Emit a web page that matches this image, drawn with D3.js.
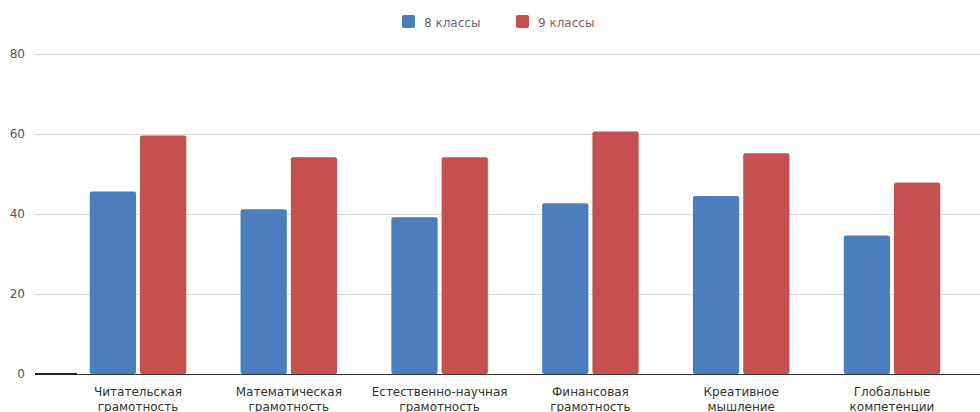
<!DOCTYPE html>
<html>
<head>
<meta charset="utf-8">
<script src="https://cdn.jsdelivr.net/npm/d3@7"></script>
<style>
  body { margin: 0; background: #fff; }
  svg text { font-family: "DejaVu Sans", "Noto Sans", sans-serif; }
</style>
</head>
<body>
<div class="chart"></div>
<script>
let categories = [
  ['Читательская', 'грамотность'],
  ['Математическая', 'грамотность'],
  ['Естественно-научная', 'грамотность'],
  ['Финансовая', 'грамотность'],
  ['Креативное', 'мышление'],
  ['Глобальные', 'компетенции']
]
let seriesNames = ['8 классы', '9 классы']
let grade8 = [45.6, 41.2, 39.2, 42.7, 44.5, 34.6]
let grade9 = [59.6, 54.2, 54.2, 60.6, 55.2, 47.9]
let yTicks = [0, 20, 40, 60, 80]
let colors = ['#4a7ebd', '#c5504e']
let legendTextColors = ['#5a6a88', '#8a5c60']

let width = 980, height = 412

let svg = d3.select('.chart')
    .append('svg')
    .attr('width', width)
    .attr('height', height)

let y = d3.scaleLinear()
    .domain([0, 80])
    .range([374, 54])

let x0 = d3.scaleBand()
    .domain(d3.range(categories.length))
    .range([62.6, 967.4])
    .paddingInner(0.36)
    .paddingOuter(0.18)

let x1 = d3.scaleBand()
    .domain([0, 1])
    .range([0, x0.bandwidth()])
    .paddingInner(0.08)

// grid + y labels
let yAxis = svg.append('g')
    .attr('transform', 'translate(35,0)')
    .call(d3.axisLeft(y).tickValues(yTicks).tickSize(-(width - 35)).tickPadding(10))
yAxis.select('.domain').remove()
yAxis.selectAll('.tick line')
    .attr('stroke', d => d === 0 ? '#333' : '#dcdcdc')
    .attr('stroke-width', 1)
yAxis.selectAll('.tick text')
    .attr('fill', '#555')
    .style('font-size', '12px')

// bars
let groups = svg.append('g').selectAll('g')
    .data(categories)
    .enter().append('g')
    .attr('transform', (d, i) => 'translate(' + x0(i) + ',0)')

groups.selectAll('rect')
    .data((d, i) => [grade8[i], grade9[i]])
    .enter().append('rect')
    .attr('x', (d, j) => x1(j))
    .attr('y', d => y(d))
    .attr('width', x1.bandwidth())
    .attr('height', d => y(0) - y(d))
    .attr('rx', 2)
    .style('fill', (d, j) => colors[j])

// zero line, thicker at the left
svg.append('line')
    .attr('x1', 35).attr('x2', width)
    .attr('y1', y(0) + 0.5).attr('y2', y(0) + 0.5)
    .attr('stroke', '#333')
svg.append('line')
    .attr('x1', 35).attr('x2', 77)
    .attr('y1', y(0)).attr('y2', y(0))
    .attr('stroke', '#222')
    .attr('stroke-width', 2)

// category labels
let labels = svg.append('g').selectAll('text')
    .data(categories)
    .enter().append('text')
    .attr('text-anchor', 'middle')
    .attr('fill', '#333')
    .style('font-size', '12px')
labels.each(function(d, i) {
  let t = d3.select(this)
  d.forEach((line, k) => {
    t.append('tspan')
      .attr('x', x0(i) + x0.bandwidth() / 2)
      .attr('y', 396 + k * 15)
      .text(line)
  })
})

// legend
let legendX = [402, 516]
let legend = svg.append('g').selectAll('g')
    .data(seriesNames)
    .enter().append('g')
    .attr('transform', (d, i) => 'translate(' + legendX[i] + ',15)')
legend.append('rect')
    .attr('width', 13).attr('height', 13).attr('rx', 2)
    .style('fill', (d, i) => colors[i])
legend.append('text')
    .attr('x', 22).attr('y', 11.5)
    .attr('fill', (d, i) => legendTextColors[i])
    .style('font-size', '12px')
    .text(d => d)
</script>
</body>
</html>
